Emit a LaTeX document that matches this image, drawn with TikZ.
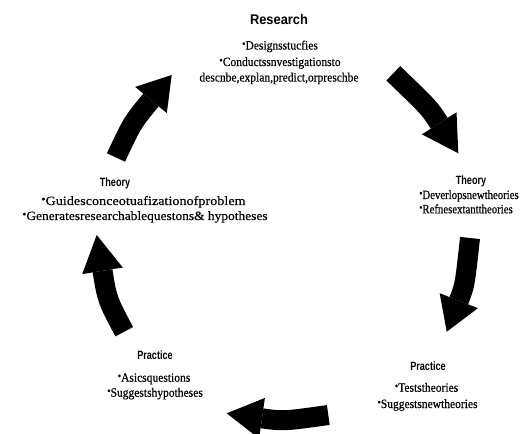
\documentclass[tikz,border=0pt]{standalone}
\usepackage{fontspec}
\usetikzlibrary{calc}
\newfontfamily\txtfont[FakeStretch=0.91,FakeBold=0.4]{Liberation Serif}
\newfontfamily\narrowtxtfont[FakeStretch=0.85,FakeBold=0.4]{Liberation Serif}
\newfontfamily\widetxtfont[FakeStretch=1.12,FakeBold=0.4]{Liberation Serif}
\newfontfamily\semiwidetxtfont[FakeStretch=1.06,FakeBold=0.4]{Liberation Serif}
\newfontfamily\resfont[FakeStretch=0.92]{Liberation Sans}
\newfontfamily\hdfont[FakeStretch=0.76]{Liberation Sans}
\newcommand\bul{\raisebox{0.4ex}{\footnotesize •}}
\newcommand\cyclearrow[4]{%
  \draw[shaft] (#1) .. controls ($(#2)!-#4!(#3)$) .. (#2);
  \fill ($(#2)!15.4pt!90:(#3)$) -- (#3) -- ($(#2)!15.4pt!-90:(#3)$) -- cycle;
}
\begin{document}
\begin{tikzpicture}[x=0.75pt,y=-0.75pt,
  shaft/.style={line width=15pt,black},
  txt/.style={anchor=base,inner sep=0pt,font=\txtfont\fontsize{9.5pt}{11pt}\selectfont},
  narrowtxt/.style={anchor=base,inner sep=0pt,font=\narrowtxtfont\fontsize{9.5pt}{11pt}\selectfont},
  widetxt/.style={anchor=base,inner sep=0pt,font=\widetxtfont\fontsize{9.5pt}{11pt}\selectfont},
  semiwidetxt/.style={anchor=base,inner sep=0pt,font=\semiwidetxtfont\fontsize{9.5pt}{11pt}\selectfont},
  restitle/.style={anchor=base,inner sep=0pt,font=\resfont\bfseries\fontsize{10.5pt}{12pt}\selectfont},
  hdtitle/.style={anchor=base,inner sep=0pt,font=\hdfont\bfseries\fontsize{9pt}{11pt}\selectfont}]
\useasboundingbox (0,0) rectangle (524,434);

% Research block (top)
\node[restitle] (research) at (279,25) {Research};
\node[txt] (r1) at (280,49.5) {\bul Designsstucfies};
\node[txt] (r2) at (280,66) {\bul Conductssnvestigationsto};
\node[txt] (r3) at (279,81.5) {descnbe,explan,predict,orpreschbe};

% Theory block (left)
\node[hdtitle] (theoryL) at (115,186.5) {Theory};
\node[widetxt] (tl1) at (143.5,205) {\bul Guidesconceotuafizationofproblem};
\node[semiwidetxt] (tl2) at (145,220) {\bul Generatesresearchablequestons\& hypotheses};

% Theory block (right)
\node[hdtitle] (theoryR) at (471,185) {Theory};
\node[narrowtxt,anchor=base west] (tr1) at (419,199) {\bul Deverlopsnewtheories};
\node[narrowtxt,anchor=base west] (tr2) at (419,213.3) {\bul Refnesextanttheories};

% Practice block (bottom left)
\node[hdtitle] (practiceL) at (155,359.3) {Practice};
\node[txt] (pl1) at (154,381.7) {\bul Asicsquestions};
\node[txt] (pl2) at (155,396.7) {\bul Suggestshypotheses};

% Practice block (bottom right)
\node[hdtitle] (practiceR) at (428,370) {Practice};
\node[txt] (pr1) at (426.5,391.7) {\bul Teststheories};
\node[txt] (pr2) at (427.5,408) {\bul Suggestsnewtheories};

% arrow coordinates
\coordinate (a1t) at (116,157.5);
\coordinate (a1b) at (151,100);
\coordinate (a1p) at (171.7,75);
\coordinate (a2t) at (393.3,73.3);
\coordinate (a2b) at (439.2,123.3);
\coordinate (a2p) at (458.3,153.3);
\coordinate (a3t) at (470,238);
\coordinate (a3b) at (458.8,300.7);
\coordinate (a3p) at (446.7,331.7);
\coordinate (a4t) at (328.3,415);
\coordinate (a4b) at (262,418.3);
\coordinate (a4p) at (226.7,413.3);
\coordinate (a5t) at (124.2,331.7);
\coordinate (a5b) at (102.5,270.8);
\coordinate (a5p) at (96.7,235);

\cyclearrow{a1t}{a1b}{a1p}{0.9}
\cyclearrow{a2t}{a2b}{a2p}{0.5}
\cyclearrow{a3t}{a3b}{a3p}{0.5}
\cyclearrow{a4t}{a4b}{a4p}{0.6}
\cyclearrow{a5t}{a5b}{a5p}{0.8}
\end{tikzpicture}
\end{document}
